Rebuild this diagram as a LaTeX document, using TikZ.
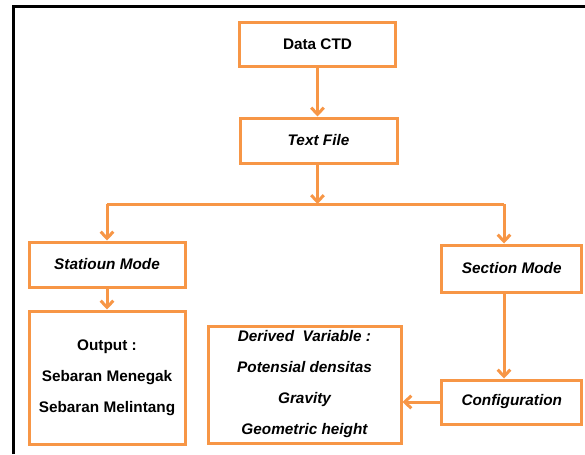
\documentclass[tikz,border=0pt]{standalone}
\usepackage{fontspec}
\setmainfont{Liberation Sans}
\usetikzlibrary{arrows.meta}
\definecolor{boxorange}{RGB}{247,150,70}
\begin{document}
\begin{tikzpicture}[x=0.75pt,y=-0.75pt,
  box/.style={draw=boxorange, line width=2.25pt, fill=white, inner sep=0pt,
    align=center, font=\fontsize{11.5}{23.25}\selectfont\bfseries},
  ibox/.style={box, font=\fontsize{11.5}{23.25}\selectfont\bfseries\itshape},
  conn/.style={draw=boxorange, line width=2.25pt},
  arr/.style={conn, -{Straight Barb[length=5pt,width=9.5pt]}}]
\useasboundingbox (0,0) rectangle (585,454);
\draw[line width=2.25pt] (13.5,454) -- (13.5,6) -- (585,6);
\node[box, minimum width=117pt, minimum height=33pt] (data) at (317.5,44.5) {Data CTD};
\node[ibox, minimum width=117.75pt, minimum height=33.75pt] (tf) at (318.5,140.5) {Text File};
\node[ibox, minimum width=117pt, minimum height=33.75pt] (stat) at (107,264.5) {Statioun Mode};
\node[box, minimum width=117pt, minimum height=99.75pt] (out) at (107,377.5) {Output :\\Sebaran Menegak\\Sebaran Melintang};
\node[ibox, minimum width=105pt, minimum height=35.25pt] (sec) at (511.75,268.5) {Section Mode};
\node[ibox, minimum width=105pt, minimum height=33pt] (conf) at (511.75,402) {Configuration};
\node[ibox, minimum width=144.75pt, minimum height=87.75pt] (der) at (304.5,384.5) {Derived\ \ Variable :\\Potensial densitas\\Gravity\\Geometric height};
\coordinate (split) at (317.5,204);
\coordinate (lft) at (107,204);
\coordinate (rgt) at (504,204);
\draw[arr] (data.south) -- (data.south |- tf.north);
\draw[arr] (tf.south -| split) -- (split);
\draw[conn] (lft) -- (rgt);
\draw[arr] (lft) -- (stat.north);
\draw[arr] (rgt) -- (rgt |- sec.north);
\draw[arr] (stat.south) -- (out.north);
\draw[arr] (sec.south -| rgt) -- (conf.north -| rgt);
\draw[arr] (conf.west) -- (der.east |- conf.west);
\end{tikzpicture}
\end{document}
